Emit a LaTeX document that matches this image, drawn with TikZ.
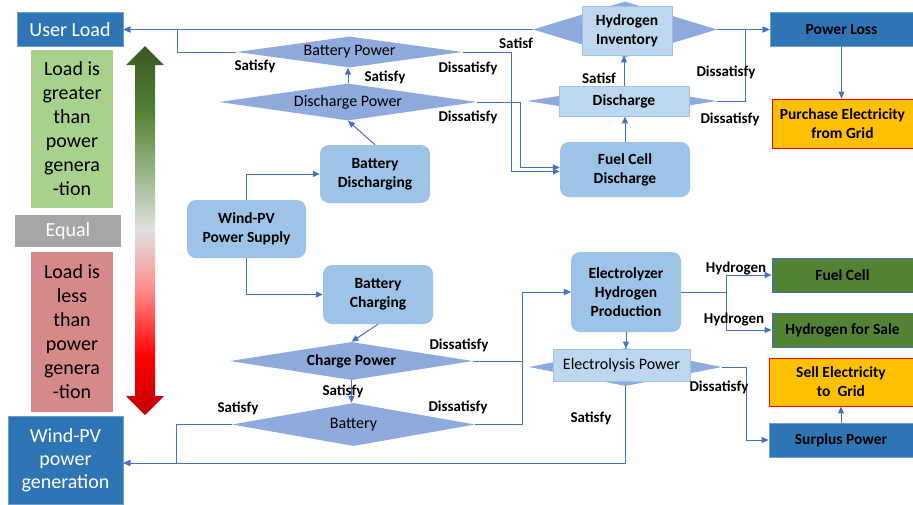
\documentclass[tikz,border=0pt]{standalone}
\usepackage{fontspec}
\setmainfont{Carlito}
\usetikzlibrary{positioning,calc,shapes.geometric,arrows.meta}
\definecolor{hesline}{RGB}{68,114,196}
\definecolor{hesprocess}{RGB}{157,195,230}
\definecolor{hesdecision}{RGB}{143,170,220}
\definecolor{hesgate}{RGB}{189,215,238}
\definecolor{hesgateedge}{RGB}{157,195,230}
\definecolor{hesterminal}{RGB}{46,117,182}
\definecolor{hesgreen}{RGB}{84,130,53}
\definecolor{hesdarkgreen}{RGB}{56,87,35}
\definecolor{hesgold}{RGB}{255,192,0}
\definecolor{hesloadgreen}{RGB}{169,209,142}
\definecolor{hesloadred}{RGB}{214,137,137}
\definecolor{hesequal}{RGB}{166,166,166}
\pgfdeclareverticalshading{hesbalance}{100bp}{
    color(0bp)=(red!75!black); color(25bp)=(red!75!black); color(33bp)=(red);
    color(42bp)=(red!45); color(50bp)=(black!12); color(58bp)=(hesgreen!60);
    color(66bp)=(hesgreen); color(75bp)=(hesdarkgreen); color(100bp)=(hesdarkgreen)}
\tikzset{
    hes text/.style={font=\fontsize{16}{19}\selectfont},
    hes bold/.style={font=\bfseries\fontsize{15.5}{19}\selectfont},
    hes label/.style={font=\bfseries\fontsize{15}{17}\selectfont, inner sep=0pt},
    hes process/.style={
        rectangle,
        rounded corners=9pt,
        fill=hesprocess,
        draw=none,
        inner sep=0pt,
        align=center,
        hes bold,
    },
    hes decision/.style={diamond, aspect=7, fill=hesdecision, draw=none, inner sep=0pt},
    hes gate/.style={rectangle, fill=hesgate, draw=hesgateedge, line width=0.8pt, inner sep=0pt, align=center},
    hes terminal/.style={rectangle, fill=hesterminal, draw=hesterminal!70!white, line width=0.8pt, inner sep=0pt, align=center},
    hes grid/.style={rectangle, fill=hesgold, draw=red, line width=0.9pt, inner sep=0pt, align=center, hes bold},
    hes leaf/.style={rectangle, fill=hesgreen, draw=hesline, line width=0.8pt, inner sep=0pt, align=center, hes bold},
    hes state/.style={rectangle, inner sep=0pt, align=center, font=\fontsize{20}{24}\selectfont},
    hes flow/.style={draw=hesline, line width=1pt, -{Triangle[length=7pt,width=6pt]}},
}

\begin{document}
\begin{tikzpicture}[x=1pt,y=-1pt]
\useasboundingbox (0,0) rectangle (913,504);

%Legend on the left
\node[hes terminal, text=white, font=\fontsize{20}{23}\selectfont, minimum width=106pt, minimum height=34pt] (ul) at (70,29.5) {User Load};
\node[hes state, fill=hesloadgreen, minimum width=82pt, minimum height=158pt] (lgt) at (72,129) {Load is\\greater\\than\\power\\genera\\-tion};
\node[hes state, fill=hesequal, text=white, minimum width=106pt, minimum height=32pt] (leq) at (68,231) {Equal};
\node[hes state, fill=hesloadred, minimum width=82pt, minimum height=160pt] (llt) at (72,332) {Load is\\less\\than\\power\\genera\\-tion};
\node[hes terminal, text=white, font=\fontsize{20}{23}\selectfont, minimum width=115pt, minimum height=88pt] (wpg) at (65.5,460) {Wind-PV\\power\\generation};

\shade[shading=hesbalance] (145,46) -- (164,65) -- (155,65) -- (155,396) -- (164,396) -- (145,415)
    -- (126,396) -- (135,396) -- (135,65) -- (126,65) -- cycle;

%Processes
\node[hes process, minimum width=119pt, minimum height=58pt] (wps) at (246.5,229) {Wind-PV\\Power Supply};
\node[hes process, minimum width=110pt, minimum height=58pt] (bdis) at (375,174) {Battery\\Discharging};
\node[hes process, minimum width=110pt, minimum height=59pt] (bch) at (378,294.5) {Battery\\Charging};
\node[hes process, minimum width=130pt, minimum height=55pt] (fcd) at (625,169.5) {Fuel Cell\\Discharge};
\node[hes process, minimum width=110pt, minimum height=80pt] (ely) at (626,292) {Electrolyzer\\Hydrogen\\Production};

%Decisions
\node[hes decision, hes text, minimum width=226pt, minimum height=31pt] (bpw) at (349.5,52) {Battery Power};
\node[hes decision, hes text, minimum width=258pt, minimum height=37pt] (dpw) at (348,102) {Discharge Power};
\node[hes decision, hes bold, minimum width=243pt, minimum height=38pt] (cpw) at (351.5,361) {Charge Power};
\node[hes decision, hes text, minimum width=243pt, minimum height=43pt] (bat) at (353.5,424.5) {Battery};

\node[hes decision, minimum width=184pt, minimum height=56pt] (hinvd) at (625,29.5) {};
\node[hes gate, hes bold, minimum width=90pt, minimum height=49pt] (hinv) at (627,30.5) {Hydrogen\\Inventory};
\node[hes decision, minimum width=190pt, minimum height=30pt] (dchd) at (622,101) {};
\node[hes gate, hes bold, minimum width=130pt, minimum height=30pt] (dch) at (624,101) {Discharge};
\node[hes decision, minimum width=193pt, minimum height=38pt] (epwd) at (625.5,367) {};
\node[hes gate, hes text, minimum width=137pt, minimum height=32pt] (epw) at (621.5,365) {Electrolysis Power};

%Outcomes on the right
\node[hes terminal, hes bold, minimum width=143pt, minimum height=34pt] (pl) at (841.5,29.5) {Power Loss};
\node[hes grid, minimum width=141pt, minimum height=49pt] (pe) at (842.5,123.5) {Purchase Electricity\\from Grid};
\node[hes leaf, minimum width=141pt, minimum height=34pt] (fc) at (842.5,275) {Fuel Cell};
\node[hes leaf, minimum width=141pt, minimum height=34pt] (hs) at (842.5,330) {Hydrogen for Sale};
\node[hes grid, minimum width=144pt, minimum height=48pt] (se) at (841,382) {Sell Electricity\\to~~Grid};
\node[hes terminal, hes bold, minimum width=144pt, minimum height=34pt] (sp) at (841,440) {Surplus Power};

%Connectors
\draw[hes flow] (wps.north) |- (bdis.west);
\draw[hes flow] (wps.south) |- (bch.west);
\draw[hes flow] (bdis.north) -- (dpw.south);
\draw[hes flow] (dpw.north) -- (dpw.north |- bpw.south);
\draw[hes flow] (bpw.west) -- ++(-59,0) |- (ul.east);
\draw[hes flow] (hinvd.west) -- (ul.east);
\draw[hes flow] (bpw.east) -- ++(49,0) |- ([yshift=-2pt]fcd.west);
\draw[hes flow] (dpw.east) -- ++(43,0) |- ([yshift=2pt]fcd.west);
\draw[hes flow] (fcd.north) -- (fcd.north |- dch.south);
\draw[hes flow] (dch.north) -- (dch.north |- hinv.south);
\draw[hes flow] (hinvd.east) -- (pl.west);
\draw[hes flow] (dchd.east) -- ++(28,0) |- (pl.west);
\draw[hes flow] (pl.south) -- (pl.south |- pe.north);

\draw[hes flow] (bch.south) -- (cpw.north);
\draw[hes flow] (cpw.south) -- (cpw.south |- bat.north);
\draw[hes flow] (cpw.east) -- ++(49,0) |- (ely.west);
\draw[hes flow] (bat.east) -- ++(47,0) |- (ely.west);
\draw[hes flow] (bat.west) -- ++(-55,0) |- ([yshift=-3pt]wpg.east);
\draw[hes flow] (epwd.south) |- ([yshift=-3pt]wpg.east);
\draw[hes flow] (ely.south) -- (ely.south |- epw.north);
\draw[hes flow] (epwd.east) -- ++(24,0) |- (sp.west);
\draw[hes flow] (ely.east) -- ++(45,0) |- (fc.west);
\draw[hes flow] (ely.east) -- ++(45,0) |- (hs.west);
\draw[hes flow] (sp.north) -- (sp.north |- se.south);

%Branch labels
\node[hes label] (bpw-yes) at (255,66) {Satisfy};
\node[hes label] (dpw-yes) at (385,77) {Satisfy};
\node[hes label] (bpw-no) at (468,68) {Dissatisfy};
\node[hes label] (dpw-no) at (468,117) {Dissatisfy};
\node[hes label] (hinv-yes) at (516,43) {Satisf};
\node[hes label] (dch-yes) at (599,78) {Satisf};
\node[hes label] (hinv-no) at (726,72) {Dissatisfy};
\node[hes label] (dch-no) at (730,119) {Dissatisfy};
\node[hes label] (h2-fc) at (736,269) {Hydrogen};
\node[hes label] (h2-hs) at (734,320) {Hydrogen};
\node[hes label] (cpw-no) at (459,345) {Dissatisfy};
\node[hes label] (cpw-yes) at (343,391) {Satisfy};
\node[hes label] (bat-no) at (458,407) {Dissatisfy};
\node[hes label] (bat-yes) at (238,408) {Satisfy};
\node[hes label] (epw-yes) at (591,418) {Satisfy};
\node[hes label] (epw-no) at (719,387) {Dissatisfy};

\end{tikzpicture}
\end{document}
